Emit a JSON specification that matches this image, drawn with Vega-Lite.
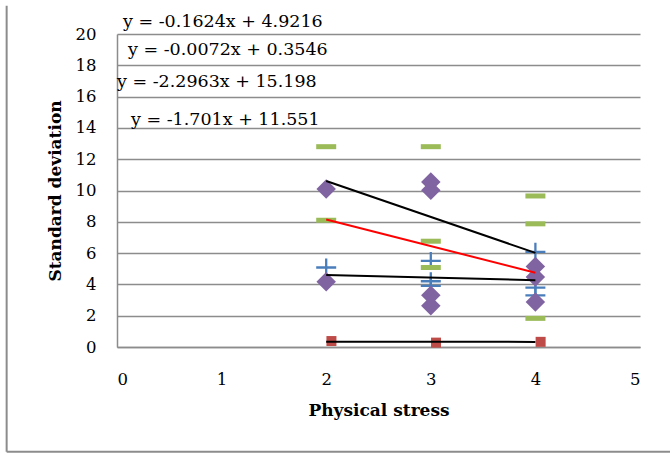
{
  "$schema": "https://vega.github.io/schema/vega-lite/v6.json",
  "width": 523,
  "height": 313,
  "autosize": {"type": "none"},
  "padding": {"left": 117, "top": 34, "right": 30, "bottom": 107},
  "background": "white",
  "config": {"view": {"stroke": null}, "font": "DejaVu Serif"},
  "resolve": {"axis": {"x": "independent", "y": "independent"}},
  "datasets": {
    "points": [
      {"series": "plus", "x": 2, "y": 5.08},
      {"series": "plus", "x": 3, "y": 5.5},
      {"series": "plus", "x": 3, "y": 4.2},
      {"series": "plus", "x": 3, "y": 3.9},
      {"series": "plus", "x": 4, "y": 6.08},
      {"series": "plus", "x": 4, "y": 3.8},
      {"series": "plus", "x": 4, "y": 3.3},
      {"series": "square", "x": 2.05, "y": 0.38},
      {"series": "square", "x": 3.05, "y": 0.28},
      {"series": "square", "x": 4.05, "y": 0.33},
      {"series": "dash", "x": 2, "y": 12.8},
      {"series": "dash", "x": 2, "y": 8.1},
      {"series": "dash", "x": 3, "y": 12.8},
      {"series": "dash", "x": 3, "y": 6.76},
      {"series": "dash", "x": 3, "y": 5.08},
      {"series": "dash", "x": 4, "y": 9.65},
      {"series": "dash", "x": 4, "y": 7.87},
      {"series": "dash", "x": 4, "y": 1.83},
      {"series": "diamond", "x": 2, "y": 10.1},
      {"series": "diamond", "x": 2, "y": 4.17},
      {"series": "diamond", "x": 3, "y": 10.55},
      {"series": "diamond", "x": 3, "y": 10.02},
      {"series": "diamond", "x": 3, "y": 3.3},
      {"series": "diamond", "x": 3, "y": 2.64},
      {"series": "diamond", "x": 4, "y": 5.15},
      {"series": "diamond", "x": 4, "y": 4.47},
      {"series": "diamond", "x": 4, "y": 2.88}
    ],
    "trends": [
      {"trend": "a", "color": "black", "x": 2, "y": 4.5968},
      {"trend": "a", "color": "black", "x": 4, "y": 4.272},
      {"trend": "b", "color": "black", "x": 2, "y": 0.3402},
      {"trend": "b", "color": "black", "x": 4, "y": 0.3258},
      {"trend": "c", "color": "black", "x": 2, "y": 10.6054},
      {"trend": "c", "color": "black", "x": 4, "y": 6.0128},
      {"trend": "d", "color": "red", "x": 2, "y": 8.149},
      {"trend": "d", "color": "red", "x": 4, "y": 4.747}
    ],
    "labels": [
      {"label": "y = -0.1624x + 4.9216", "x": 0.057, "y": 20.75},
      {"label": "y = -0.0072x + 0.3546", "x": 0.105, "y": 18.95},
      {"label": "y = -2.2963x + 15.198", "x": 0.0, "y": 16.93},
      {"label": "y = -1.701x + 11.551", "x": 0.134, "y": 14.48}
    ]
  },
  "layer": [
    {
      "data": {"name": "points"},
      "transform": [{"filter": "datum.series === 'plus'"}],
      "mark": {"type": "point", "shape": "M-1,0L1,0M0,-0.9L0,0.9", "size": 400, "filled": false, "stroke": "#4A7EBB", "strokeWidth": 2.3, "opacity": 1},
      "encoding": {
        "x": {
          "field": "x", "type": "quantitative",
          "scale": {"domain": [0, 5], "nice": false, "zero": false},
          "axis": {
            "title": "Physical stress", "values": [0, 1, 2, 3, 4, 5], "format": "d",
            "grid": false, "ticks": false, "tickSize": 0,
            "domain": true, "domainColor": "#8c8c8c", "domainWidth": 1.5,
            "labelFont": "DejaVu Serif", "labelFontSize": 16.5, "labelColor": "black", "labelPadding": 24,
            "titleFont": "DejaVu Serif", "titleFontSize": 17, "titleFontWeight": "bold", "titleColor": "black",
            "titleY": 63, "titleBaseline": "middle"
          }
        },
        "y": {
          "field": "y", "type": "quantitative",
          "scale": {"domain": [0, 20], "nice": false, "zero": false},
          "axis": {
            "title": "Standard deviation", "values": [0, 2, 4, 6, 8, 10, 12, 14, 16, 18, 20], "format": "d",
            "labelOverlap": false,
            "grid": true, "gridColor": "#8c8c8c", "gridWidth": 1.5,
            "ticks": false, "tickSize": 0,
            "domain": true, "domainColor": "#8c8c8c", "domainWidth": 1.5,
            "labelFont": "DejaVu Serif", "labelFontSize": 16.5, "labelColor": "black", "labelPadding": 21,
            "titleFont": "DejaVu Serif", "titleFontSize": 17, "titleFontWeight": "bold", "titleColor": "black",
            "titleAngle": -90, "titleX": -62, "titleBaseline": "middle", "titleAlign": "center"
          }
        }
      }
    },
    {
      "data": {"name": "points"},
      "transform": [{"filter": "datum.series === 'square'"}],
      "mark": {"type": "point", "shape": "square", "size": 100, "filled": true, "color": "#BE4B48", "opacity": 1},
      "encoding": {
        "x": {"field": "x", "type": "quantitative", "axis": null},
        "y": {"field": "y", "type": "quantitative", "axis": null}
      }
    },
    {
      "data": {"name": "points"},
      "transform": [{"filter": "datum.series === 'dash'"}],
      "mark": {"type": "point", "shape": "M-1,-0.25L1,-0.25L1,0.25L-1,0.25Z", "size": 400, "filled": true, "color": "#9BBB59", "opacity": 1},
      "encoding": {
        "x": {"field": "x", "type": "quantitative", "axis": null},
        "y": {"field": "y", "type": "quantitative", "axis": null}
      }
    },
    {
      "data": {"name": "points"},
      "transform": [{"filter": "datum.series === 'diamond'"}],
      "mark": {"type": "point", "shape": "diamond", "size": 380, "filled": true, "color": "#8064A2", "opacity": 1},
      "encoding": {
        "x": {"field": "x", "type": "quantitative", "axis": null},
        "y": {"field": "y", "type": "quantitative", "axis": null}
      }
    },
    {
      "data": {"name": "trends"},
      "mark": {"type": "line", "strokeWidth": 2},
      "encoding": {
        "x": {"field": "x", "type": "quantitative", "axis": null},
        "y": {"field": "y", "type": "quantitative", "axis": null},
        "detail": {"field": "trend"},
        "color": {"field": "color", "type": "nominal", "scale": null}
      }
    },
    {
      "data": {"name": "labels"},
      "mark": {"type": "text", "align": "left", "baseline": "middle", "font": "DejaVu Serif", "fontSize": 17.5, "color": "black"},
      "encoding": {
        "x": {"field": "x", "type": "quantitative", "axis": null},
        "y": {"field": "y", "type": "quantitative", "axis": null},
        "text": {"field": "label"}
      }
    },
    {
      "data": {"values": [{"edge": "left"}]},
      "mark": {"type": "rule", "color": "#8c8c8c", "strokeWidth": 2, "clip": false},
      "encoding": {
        "x": {"datum": -1.055, "axis": null},
        "y": {"datum": -6.7, "axis": null},
        "y2": {"datum": 21.8}
      }
    },
    {
      "data": {"values": [{"edge": "bottom"}]},
      "mark": {"type": "rule", "color": "#8c8c8c", "strokeWidth": 2, "clip": false},
      "encoding": {
        "x": {"datum": -1.055, "axis": null},
        "x2": {"datum": 5.4},
        "y": {"datum": -6.7, "axis": null}
      }
    }
  ]
}
